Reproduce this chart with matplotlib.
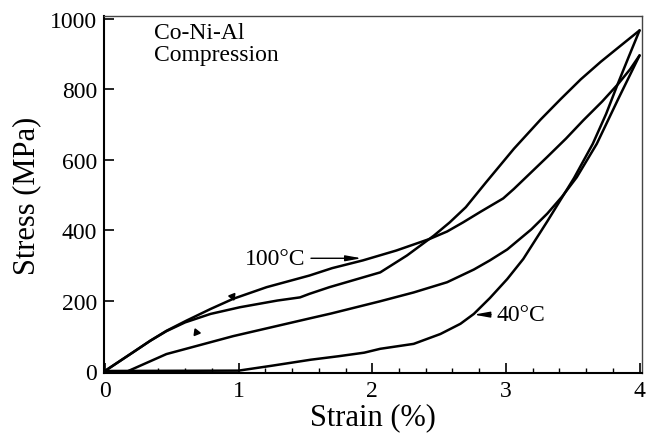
"""
Stress-strain loops for Co-Ni-Al in compression at 100 C and 40 C.
"""
import matplotlib
matplotlib.use('Agg')
import matplotlib.pyplot as plt
from matplotlib.ticker import MultipleLocator

# 100 C loading branch
strain_100_load = [0, 0.21, 0.34, 0.46, 0.61, 0.79, 0.96, 1.21, 1.53, 1.70, 1.93,
                   2.18, 2.43, 2.56, 2.68, 2.81, 2.98, 3.06, 3.31, 3.45, 3.58,
                   3.72, 3.84, 3.93, 4.0]
stress_100_load = [0, 53, 86, 114, 143, 176, 205, 238, 271, 292, 314,
                   342, 375, 396, 422, 452, 490, 517, 608, 660, 712,
                   765, 815, 857, 896]

# 100 C unloading branch
strain_100_unload = [4.0, 3.84, 3.68, 3.53, 3.42, 3.31, 3.19, 3.01, 2.88,
                     2.76, 2.56, 2.31, 2.06, 1.69, 1.54, 0.96, 0.46, 0.175]
stress_100_unload = [896, 772, 645, 550, 495, 447, 402, 345, 314,
                     288, 252, 223, 198, 163, 150, 99, 48, 0]

# 40 C loading branch
strain_40_load = [0, 0.21, 0.34, 0.46, 0.60, 0.79, 1.01, 1.29, 1.46, 1.53, 1.68,
                  2.06, 2.26, 2.46, 2.58, 2.70, 2.85, 3.06, 3.26, 3.41, 3.56,
                  3.71, 3.84, 4.0]
stress_40_load = [0, 53, 86, 113, 138, 162, 181, 200, 209, 219, 238,
                  280, 328, 384, 422, 465, 535, 631, 714, 772, 828,
                  878, 918, 967]

# 40 C unloading branch
strain_40_unload = [4.0, 3.92, 3.84, 3.75, 3.65, 3.51, 3.31, 3.13, 3.01,
                    2.88, 2.76, 2.66, 2.51, 2.31, 2.06, 1.94, 1.75, 1.54, 1.25,
                    1.0, 0]
stress_40_unload = [967, 893, 818, 730, 645, 548, 425, 318, 261,
                    207, 162, 134, 105, 77, 63, 52, 42, 32, 15,
                    1, 0]

# small wedge marks on the loading branches
mark_strain = [0.95, 0.68]
mark_stress = [214, 110]
mark_angle = [-158, 22]

LINE_CLR = "black"


def plot_loops(out_path="out.png"):
    plt.rcParams['font.family'] = ['Liberation Serif', 'DejaVu Serif']

    fig = plt.figure(figsize=(6.54, 4.35), dpi=100, facecolor='white')
    ax = fig.add_axes([0.159, 0.140, 0.823, 0.821])

    for xs, ys in [(strain_100_load, stress_100_load),
                   (strain_100_unload, stress_100_unload),
                   (strain_40_load, stress_40_load),
                   (strain_40_unload, stress_40_unload)]:
        ax.plot(xs, ys, color=LINE_CLR, lw=1.8, solid_joinstyle='round',
                solid_capstyle='round')

    for x, y, a in zip(mark_strain, mark_stress, mark_angle):
        ax.plot([x], [y], marker=(3, 0, a), ms=5.5, color=LINE_CLR, lw=0)

    ax.set_xlim(-0.007, 4.02)
    ax.set_ylim(-6, 1008)

    ax.xaxis.set_major_locator(MultipleLocator(1))
    ax.xaxis.set_minor_locator(MultipleLocator(0.2))
    ax.yaxis.set_major_locator(MultipleLocator(200))
    ax.tick_params(which='major', direction='in', length=7, width=1.2,
                   labelsize=17, top=False, right=False, pad=5)
    ax.tick_params(axis='x', which='minor', direction='in', length=3.5,
                   width=1.0, top=False)

    for side in ['left', 'bottom']:
        ax.spines[side].set_linewidth(1.5)
        ax.spines[side].set_color('black')
    for side in ['top', 'right']:
        ax.spines[side].set_linewidth(1.0)
        ax.spines[side].set_color('#444444')

    ax.set_xlabel("Strain (%)", fontsize=22, labelpad=1)
    ax.set_ylabel("Stress (MPa)", fontsize=22, labelpad=6)

    ax.text(0.093, 0.982, "Co-Ni-Al\nCompression", transform=ax.transAxes,
            ha='left', va='top', fontsize=17, linespacing=1.05)

    arrow = dict(arrowstyle='-|>,head_length=0.55,head_width=0.1',
                 color=LINE_CLR, lw=1.0, shrinkA=2, shrinkB=0)
    ax.annotate("100°C", xy=(1.92, 320), xytext=(1.50, 320),
                ha='right', va='center', fontsize=17, arrowprops=arrow)
    ax.annotate("40°C", xy=(2.76, 160), xytext=(2.93, 160),
                ha='left', va='center', fontsize=17, arrowprops=arrow)

    fig.savefig(out_path, dpi=100, facecolor='white')
    plt.close(fig)
    print(f"Saved: {out_path}")


if __name__ == "__main__":
    plot_loops()
